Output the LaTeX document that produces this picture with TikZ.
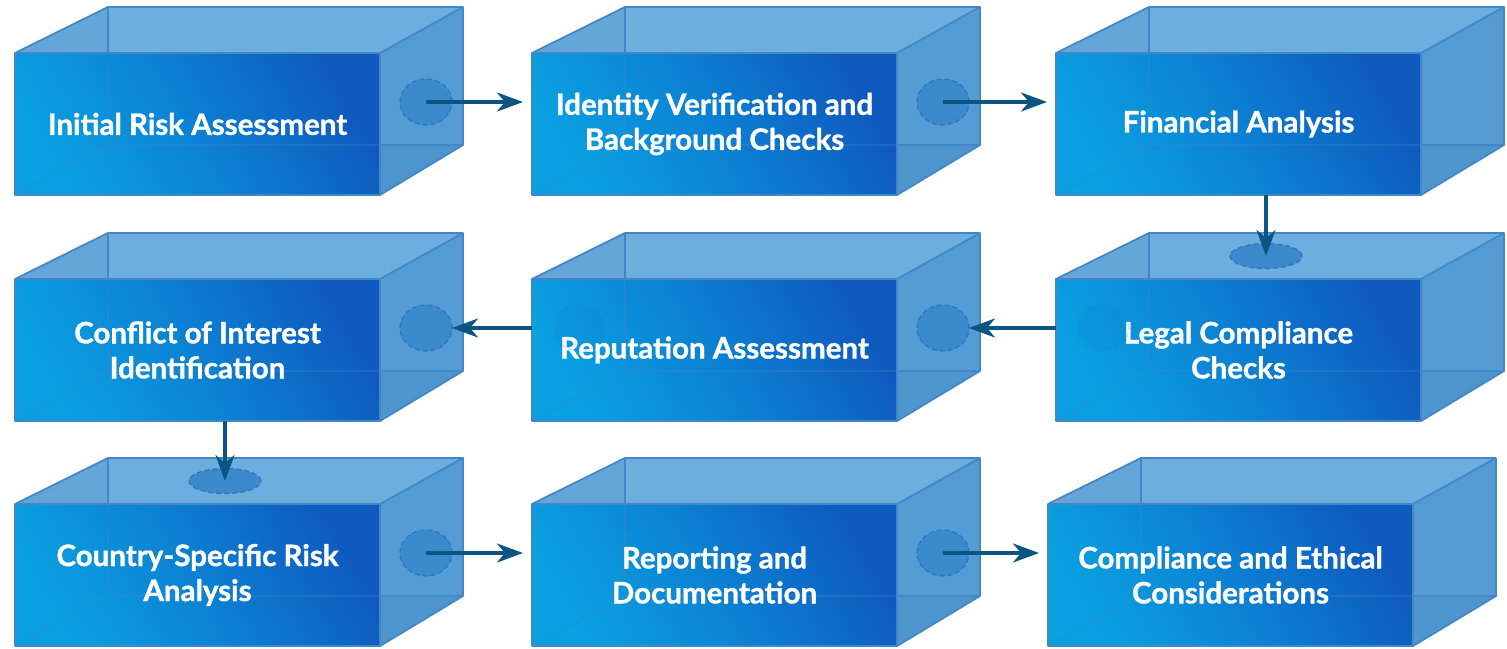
\documentclass[tikz,border=0pt]{standalone}
\usepackage{fontspec}
\setmainfont{Lato}[BoldFeatures={FakeBold=1.2}]
\usetikzlibrary{arrows.meta}
\definecolor{topc}{RGB}{108,174,222}
\definecolor{rightc}{RGB}{84,156,211}
\definecolor{edgec}{RGB}{66,136,200}
\definecolor{shadec}{RGB}{20,70,140}
\definecolor{fll}{RGB}{10,160,225}
\definecolor{fmid}{RGB}{12,128,210}
\definecolor{fur}{RGB}{14,90,190}
\definecolor{holec}{RGB}{58,138,204}
\definecolor{holeb}{RGB}{40,120,196}
\definecolor{arrc}{RGB}{12,84,130}
\tikzset{
  edge/.style={draw=edgec, line width=1.8pt, line join=round},
  lbl/.style={align=center, text=white, font=\bfseries\fontsize{29.5}{35}\selectfont, inner sep=0pt},
  hole/.style={fill=holec, draw=holeb, line width=1.3pt, dash pattern=on 5pt off 3pt},
  hidhole/.style={fill=shadec, fill opacity=0.05, draw=holeb, draw opacity=0.18, line width=1.3pt, dash pattern=on 5pt off 3pt},
  arr/.style={draw=arrc, line width=3.5pt, -{Stealth[length=26pt, width=19pt, inset=8pt]}}
}
\newcommand\mybox[4]{%
 \begin{scope}[shift={(#2,#3)}]
  \fill[topc] (0,0) -- (93,-46) -- (448,-46) -- (365,0) -- cycle;
  \fill[rightc] (365,0) -- (448,-46) -- (448,92) -- (365,142) -- cycle;
  \fill[shadec, opacity=0.07] (0,0) -- (93,-46) -- (93,0) -- cycle;
  \fill[shadec, opacity=0.07] (365,142) -- (448,92) -- (365,92) -- cycle;
  \draw[edge] (93,-46) -- (93,0);
  \draw[edge] (365,92) -- (448,92);
  \shade[top color=fur, bottom color=fll, middle color=fmid, shading angle=-60] (0,0) rectangle (365,142);
  \draw[edge, draw opacity=0.3] (93,0) -- (93,92) -- (365,92) (0,142) -- (93,92);
  \draw[edge] (0,142) -- (0,0) -- (93,-46) -- (448,-46) -- (448,92) -- (365,142) -- cycle;
  \draw[edge] (0,0) -- (365,0) -- (365,142) (365,0) -- (448,-46);
  \node[lbl] (#1) at (182.5,71) {#4};
  \coordinate (#1-rh) at (411,49);
  \coordinate (#1-rhe) at (437,49);
  \coordinate (#1-th) at (210,-23);
  \coordinate (#1-lh) at (47,49);
  \coordinate (#1-in) at (-9,49);
  \coordinate (#1-fl) at (0,49);
  \coordinate (#1-bot) at (210,142);
 \end{scope}}
\begin{document}
\begin{tikzpicture}[x=1pt,y=-1pt]
\useasboundingbox (0,0) rectangle (1507,648);
\mybox{b1}{15}{53}{Initial Risk Assessment}
\mybox{b2}{532}{53}{Identity Verification and\\Background Checks}
\mybox{b3}{1056}{53}{Financial Analysis}
\mybox{b4}{15}{279}{Conflict of Interest\\Identification}
\mybox{b5}{532}{279}{Reputation Assessment}
\mybox{b6}{1056}{279}{Legal Compliance\\Checks}
\mybox{b7}{15}{504}{Country-Specific Risk\\Analysis}
\mybox{b8}{532}{504}{Reporting and\\Documentation}
\mybox{b9}{1048}{504}{Compliance and Ethical\\Considerations}
% holes
\path[hole] (b1-rh) ellipse [x radius=26pt, y radius=23pt];
\path[hole] (b2-rh) ellipse [x radius=26pt, y radius=23pt];
\path[hole] (b4-rh) ellipse [x radius=26pt, y radius=23pt];
\path[hole] (b5-rh) ellipse [x radius=26pt, y radius=23pt];
\path[hole] (b7-rh) ellipse [x radius=26pt, y radius=23pt];
\path[hole] (b8-rh) ellipse [x radius=26pt, y radius=23pt];
\path[hole] (b6-th) ellipse [x radius=36pt, y radius=12.5pt];
\path[hole] (b7-th) ellipse [x radius=36pt, y radius=12.5pt];
\path[hidhole] (b5-lh) ellipse [x radius=26pt, y radius=23pt];
\path[hidhole] (b6-lh) ellipse [x radius=26pt, y radius=23pt];
% arrows
\draw[arr] (b1-rh) -- (b2-in);
\draw[arr] (b2-rh) -- (b3-in);
\draw[arr] (b3-bot) -- (b6-th);
\draw[arr] (b6-fl) -- (b5-rhe);
\draw[arr] (b5-fl) -- (b4-rhe);
\draw[arr] (b4-bot) -- (b7-th);
\draw[arr] (b7-rh) -- (b8-in);
\draw[arr] (b8-rh) -- (b9-in);
\end{tikzpicture}
\end{document}
